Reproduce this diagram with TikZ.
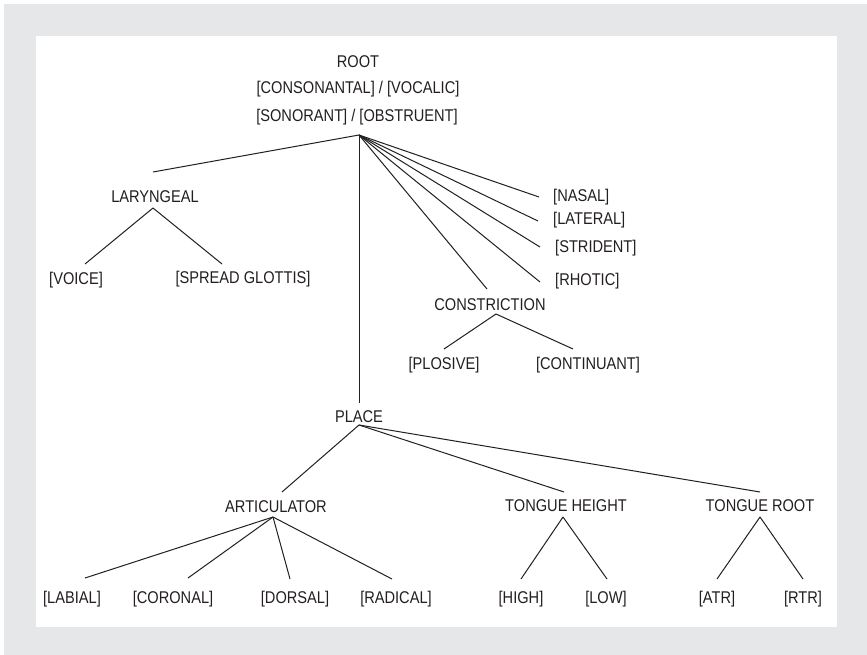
\documentclass[tikz,border=0pt]{standalone}
\usepackage{fontspec}
\setmainfont[FakeStretch=0.86]{Liberation Sans}
\definecolor{bggrey}{RGB}{230,231,232}
\definecolor{ink}{RGB}{35,31,32}
\begin{document}
\begin{tikzpicture}[x=1pt,y=-1pt,
  lbl/.style={inner sep=0pt, text height=12pt, text depth=0pt, text=ink,
    font=\fontsize{17}{20}\selectfont},
  edge/.style={draw=ink, line width=1pt}]
\useasboundingbox (0,0) rectangle (867,655);
\fill[white] (0,0) rectangle (867,655);
\fill[bggrey] (4,4) rectangle (867,655);
\fill[white] (36,36) rectangle (837,627);

% nodes
\node[lbl] (root) at (358,62) {ROOT};
\node[lbl] (cons) at (358,88) {[CONSONANTAL] / [VOCALIC]};
\node[lbl] (son) at (357,116) {[SONORANT] / [OBSTRUENT]};
\node[lbl] (lar) at (155,197) {LARYNGEAL};
\node[lbl] (voice) at (76,278) {[VOICE]};
\node[lbl] (spread) at (243,277) {[SPREAD GLOTTIS]};
\node[lbl, anchor=west] (nasal) at (553,196) {[NASAL]};
\node[lbl, anchor=west] (lateral) at (553,218) {[LATERAL]};
\node[lbl, anchor=west] (strident) at (555,246) {[STRIDENT]};
\node[lbl, anchor=west] (rhotic) at (555,279) {[RHOTIC]};
\node[lbl] (constr) at (490,304) {CONSTRICTION};
\node[lbl] (plosive) at (444,363) {[PLOSIVE]};
\node[lbl] (cont) at (588,363) {[CONTINUANT]};
\node[lbl] (place) at (359,416) {PLACE};
\node[lbl] (artic) at (276,506) {ARTICULATOR};
\node[lbl] (th) at (566,505) {TONGUE HEIGHT};
\node[lbl] (tr) at (760,505) {TONGUE ROOT};
\node[lbl] (labial) at (72,597) {[LABIAL]};
\node[lbl] (coronal) at (173,597) {[CORONAL]};
\node[lbl] (dorsal) at (295,597) {[DORSAL]};
\node[lbl] (radical) at (396,597) {[RADICAL]};
\node[lbl] (high) at (521,597) {[HIGH]};
\node[lbl] (low) at (606,597) {[LOW]};
\node[lbl] (atr) at (717,597) {[ATR]};
\node[lbl] (rtr) at (803,597) {[RTR]};

% connector end points
\coordinate (rootB) at (359,135);
\coordinate (larT) at (153,172);
\coordinate (larB) at (153,208);
\coordinate (voiceT) at (85,264);
\coordinate (spreadT) at (222,264);
\coordinate (nasalE) at (539,197);
\coordinate (latE) at (538,221);
\coordinate (strE) at (540,247);
\coordinate (rhoE) at (540,282);
\coordinate (conT) at (487,289);
\coordinate (conB) at (496,314);
\coordinate (ploT) at (444,349);
\coordinate (contT) at (573,349);
\coordinate (placeT) at (359,403);
\coordinate (placeB) at (359,425);
\coordinate (artT) at (282,492);
\coordinate (artB) at (273,517);
\coordinate (thT) at (564,492);
\coordinate (thB) at (563,517);
\coordinate (trT) at (760,492);
\coordinate (trB) at (760,517);
\coordinate (labT) at (85,578);
\coordinate (corT) at (188,578);
\coordinate (dorT) at (290,579);
\coordinate (radT) at (392,579);
\coordinate (highT) at (521,579);
\coordinate (lowT) at (607,579);
\coordinate (atrT) at (717,579);
\coordinate (rtrT) at (803,579);

% connectors
\draw[edge] (rootB) -- (larT);
\draw[edge] (rootB) -- (placeT);
\draw[edge] (rootB) -- (nasalE);
\draw[edge] (rootB) -- (latE);
\draw[edge] (rootB) -- (strE);
\draw[edge] (rootB) -- (rhoE);
\draw[edge] (rootB) -- (conT);
\draw[edge] (larB) -- (voiceT);
\draw[edge] (larB) -- (spreadT);
\draw[edge] (conB) -- (ploT);
\draw[edge] (conB) -- (contT);
\draw[edge] (placeB) -- (artT);
\draw[edge] (placeB) -- (thT);
\draw[edge] (placeB) -- (trT);
\draw[edge] (artB) -- (labT);
\draw[edge] (artB) -- (corT);
\draw[edge] (artB) -- (dorT);
\draw[edge] (artB) -- (radT);
\draw[edge] (thB) -- (highT);
\draw[edge] (thB) -- (lowT);
\draw[edge] (trB) -- (atrT);
\draw[edge] (trB) -- (rtrT);
\end{tikzpicture}
\end{document}
